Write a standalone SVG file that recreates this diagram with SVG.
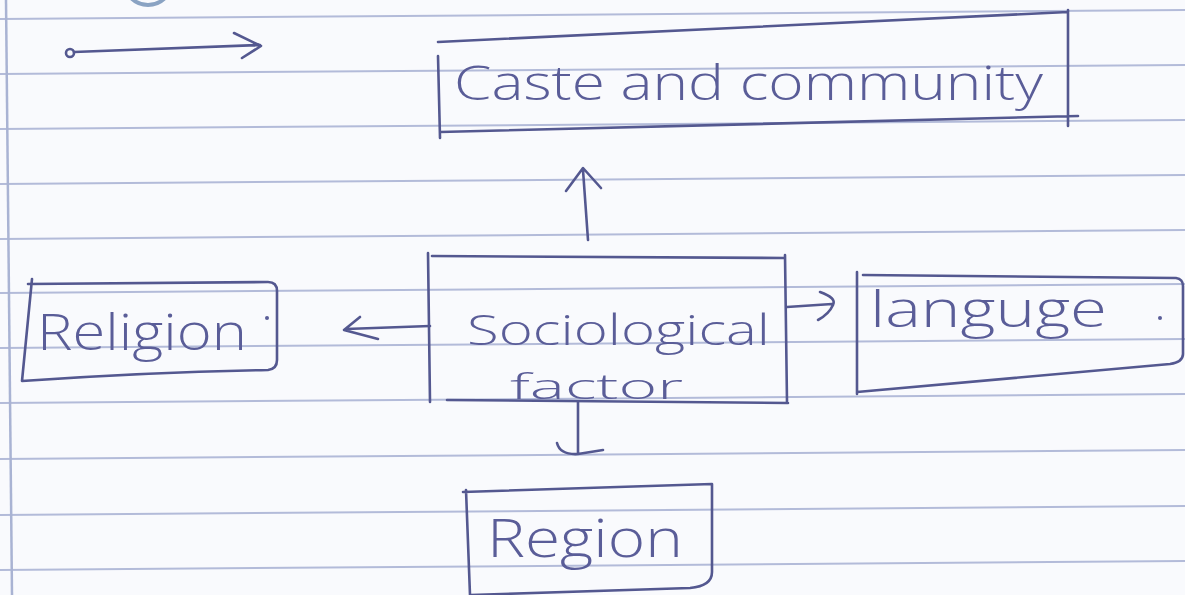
<svg xmlns="http://www.w3.org/2000/svg" width="1185" height="595" viewBox="0 0 1185 595">
<style>
.rule{stroke:#b3bbd9;stroke-width:2;fill:none}
.margin{stroke:#a9b3d3;stroke-width:2.5;fill:none}
.ink{stroke:#545890;stroke-width:2.6;fill:none;stroke-linecap:round;stroke-linejoin:round}
.hand{font-family:"Open Sans","Liberation Sans",sans-serif;font-weight:300;fill:#5a5d98}
.dot{fill:#5a5d98}
</style>
<rect width="1185" height="595" fill="#f9fafd"/>
<g id="paper">
<line class="rule" x1="0" y1="19" x2="1185" y2="10"/>
<line class="rule" x1="0" y1="74" x2="1185" y2="65"/>
<line class="rule" x1="0" y1="129" x2="1185" y2="120"/>
<line class="rule" x1="0" y1="184" x2="1185" y2="175"/>
<line class="rule" x1="0" y1="239" x2="1185" y2="230"/>
<line class="rule" x1="0" y1="293" x2="1185" y2="284"/>
<line class="rule" x1="0" y1="348" x2="1185" y2="339"/>
<line class="rule" x1="0" y1="403" x2="1185" y2="394"/>
<line class="rule" x1="0" y1="459" x2="1185" y2="450"/>
<line class="rule" x1="0" y1="515" x2="1185" y2="506"/>
<line class="rule" x1="0" y1="570" x2="1185" y2="561"/>
<line class="margin" x1="6" y1="0" x2="12" y2="595"/>
<circle cx="148" cy="-19" r="24" fill="none" stroke="#8aa3c3" stroke-width="4"/>
</g>
<g id="connectors">
<circle class="ink" cx="70" cy="53" r="4"/>
<path class="ink" d="M74,52 L260,45 M234,33 L261,46 L242,58"/>
<path class="ink" d="M588,240 L583,170 M566,191 L583,168 L601,188"/>
<path class="ink" d="M430,326 L346,329 M360,317 L344,330 L378,339"/>
<path class="ink" d="M787,307 L832,304 M820,292 Q837,298 833,305 Q829,314 818,320"/>
<path class="ink" d="M578,402 L578,453 M557,443 Q560,455 578,454 L603,450"/>
</g>
<g id="node-caste">
<path class="ink" d="M438,42 L1068,12 M1068,10 L1068,126 M440,132 Q760,123 1078,116 M438,56 L440,138"/>
<text class="hand" x="454" y="100" font-size="48" textLength="589" lengthAdjust="spacingAndGlyphs">Caste and community</text>
</g>
<g id="node-socio">
<path class="ink" d="M428,253 L430,402 M432,256 L785,258 M785,255 L787,402 M447,400 L788,403"/>
<text class="hand" x="467" y="345" font-size="43" textLength="303" lengthAdjust="spacingAndGlyphs">Sociological</text>
<text class="hand" x="510" y="399" font-size="35" textLength="173" lengthAdjust="spacingAndGlyphs">factor</text>
</g>
<g id="node-religion">
<path class="ink" d="M32,279 L22,381 Q150,372 268,370 Q277,369 277,360 L277,291 Q277,282 268,282 L28,284"/>
<text class="hand" x="37" y="350" font-size="50" textLength="210" lengthAdjust="spacingAndGlyphs">Religion</text>
<circle class="dot" cx="267" cy="318" r="2"/>
</g>
<g id="node-language">
<path class="ink" d="M863,275 L1176,278 Q1183,279 1183,286 L1183,354 Q1183,362 1170,364 L857,392 M857,272 L857,394"/>
<text class="hand" x="870" y="327" font-size="50" textLength="237" lengthAdjust="spacingAndGlyphs">languge</text>
<circle class="dot" cx="1160" cy="318" r="2"/>
</g>
<g id="node-region">
<path class="ink" d="M463,492 L712,484 L712,572 Q712,586 690,588 L470,595 M466,490 L470,595"/>
<text class="hand" x="487" y="557" font-size="54" textLength="196" lengthAdjust="spacingAndGlyphs">Region</text>
</g>
</svg>
